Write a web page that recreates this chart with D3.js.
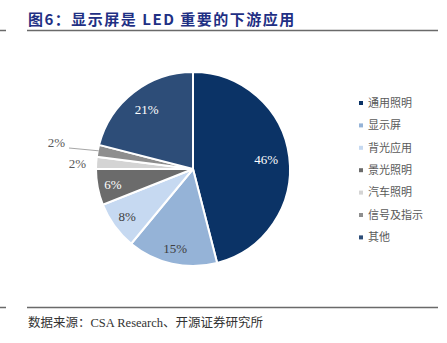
<!DOCTYPE html>
<html>
<head>
<meta charset="utf-8">
<script src="https://d3js.org/d3.v7.min.js"></script>
<style>
  html, body { margin: 0; padding: 0; background: #fff; }
</style>
</head>
<body>
<div id="chart"></div>
<script>
// 数据
const categories = ["通用照明", "显示屏", "背光应用", "景光照明", "汽车照明", "信号及指示", "其他"];
const shares = [46, 15, 8, 6, 2, 2, 21];
const sliceColors = ["#0b3366", "#95b3d7", "#c6d9f1", "#6b6b6b", "#d4d4d4", "#8e8e8e", "#2d4d78"];
const labelColors = ["#fff", "#404040", "#404040", "#fff", null, null, "#fff"];

const width = 447, height = 343;
const cx = 193, cy = 169, r = 97;

const svg = d3.select("#chart").append("svg")
  .attr("width", width)
  .attr("height", height);

// 标题
svg.append("text")
  .attr("x", 28).attr("y", 25)
  .attr("font-family", "'Noto Sans CJK SC', serif")
  .attr("font-size", 15).attr("font-weight", "bold")
  .attr("letter-spacing", 1.5)
  .attr("fill", "#1f3084")
  .text("图6：显示屏是 LED 重要的下游应用");

// 线
[30.5, 307.5].forEach(y => {
  svg.append("line").attr("x1", 27).attr("x2", 438).attr("y1", y).attr("y2", y)
    .attr("stroke", "#6a6a6a").attr("stroke-width", 1.5);
  svg.append("line").attr("x1", 0).attr("x2", 6).attr("y1", y).attr("y2", y)
    .attr("stroke", "#6a6a6a").attr("stroke-width", 1.5);
});

// 饼图
const pie = d3.pie().sort(null).value(d => d)(shares);
const arc = d3.arc().innerRadius(0).outerRadius(r);
const g = svg.append("g").attr("transform", `translate(${cx},${cy})`);

g.selectAll("path").data(pie).join("path")
  .attr("d", arc)
  .attr("fill", (d, i) => sliceColors[i])
  .attr("stroke", "#fff")
  .attr("stroke-width", 2);

// 内部标签
const labelPos = d => {
  const k = d.index === 0 ? 0.76 : (d.index === 6 ? 0.78 : 0.84);
  return d3.arc().innerRadius(r * k).outerRadius(r * k).centroid(d);
};
g.selectAll("text.in").data(pie.filter((d, i) => labelColors[i]))
  .join("text")
  .attr("class", "in")
  .attr("transform", d => `translate(${labelPos(d)})`)
  .attr("text-anchor", "middle")
  .attr("dy", "0.35em")
  .attr("font-family", "'Liberation Serif', serif")
  .attr("font-size", 13)
  .attr("fill", d => labelColors[d.index])
  .text(d => d.data + "%");

// 外部标签 (2%)
const outArc = d3.arc().innerRadius(r).outerRadius(r);
const pSignal = pie[5], pAuto = pie[4];
const a = outArc.centroid(pSignal);
g.append("polyline")
  .attr("points", [[a[0] + 1, a[1]], [-124, -21]].map(p => p.join(",")).join(" "))
  .attr("fill", "none").attr("stroke", "#a6a6a6").attr("stroke-width", 1);
g.append("text")
  .attr("x", -128).attr("y", -22)
  .attr("text-anchor", "end")
  .attr("font-family", "'Liberation Serif', serif")
  .attr("font-size", 13).attr("fill", "#595959")
  .text(pSignal.data + "%");
const b = outArc.centroid(pAuto);
g.append("text")
  .attr("x", b[0] - 10).attr("y", b[1] + 0.5)
  .attr("dy", "0.35em")
  .attr("text-anchor", "end")
  .attr("font-family", "'Liberation Serif', serif")
  .attr("font-size", 13).attr("fill", "#595959")
  .text(pAuto.data + "%");

// 图例
const legend = svg.append("g").attr("transform", "translate(359,103)");
const rows = legend.selectAll("g").data(categories).join("g")
  .attr("transform", (d, i) => `translate(0,${i * 22.4})`);
rows.append("rect").attr("x", 0).attr("y", -2).attr("width", 4).attr("height", 4)
  .attr("fill", (d, i) => sliceColors[i]);
rows.append("text").attr("x", 9).attr("y", 0).attr("dy", "0.35em")
  .attr("font-family", "'Noto Sans CJK SC', sans-serif")
  .attr("font-size", 11).attr("fill", "#595959")
  .text(d => d);

// 数据来源
svg.append("text")
  .attr("x", 28).attr("y", 327)
  .attr("font-family", "'Liberation Serif', 'Noto Sans CJK SC', serif")
  .attr("font-size", 12.5).attr("fill", "#333")
  .text("数据来源：CSA Research、开源证券研究所");
</script>
</body>
</html>
